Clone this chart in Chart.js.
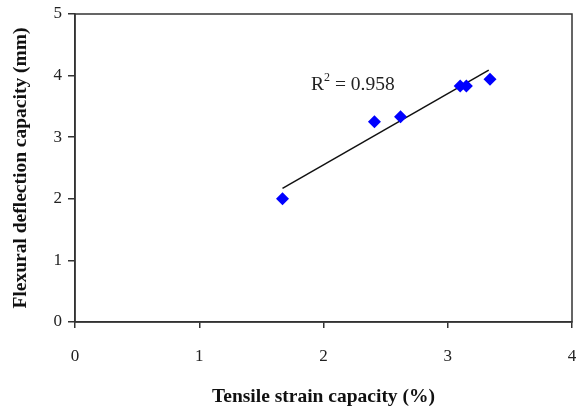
<!DOCTYPE html>
<html><head><meta charset="utf-8">
<script src="https://cdn.jsdelivr.net/npm/chart.js@4/dist/chart.umd.min.js"></script>
<style>html,body{margin:0;padding:0;background:#fff}#wrap{width:576px;height:409px}</style>
</head><body><div id="wrap"><canvas id="c" width="576" height="409"></canvas></div>
<script>
const strainX = [1.67, 2.41, 2.62, 3.10, 3.15, 3.34];
const deflectionY = [2.00, 3.25, 3.33, 3.83, 3.83, 3.94];
const trendX = [1.67, 3.33];
const trendY = [2.17, 4.09];
const xTicks = [0, 1, 2, 3, 4];
const yTicks = [0, 1, 2, 3, 4, 5];
const r2Label = { x: 1.90, y: 3.77, text: "0.958" };

const frame = {
  id: 'frame',
  afterDraw(chart) {
    const {ctx, chartArea: a, scales} = chart;
    ctx.save();
    ctx.strokeStyle = '#333';
    ctx.lineWidth = 1.5;
    ctx.strokeRect(a.left, a.top, a.right - a.left, a.bottom - a.top);
    const px = scales.x.getPixelForValue(r2Label.x);
    const py = scales.y.getPixelForValue(r2Label.y);
    ctx.fillStyle = '#222';
    ctx.textBaseline = 'alphabetic';
    ctx.font = '19.5px "Liberation Serif", serif';
    let x = px;
    ctx.fillText('R', x, py);
    x += ctx.measureText('R').width;
    ctx.font = '12px "Liberation Serif", serif';
    ctx.fillText('2', x, py - 9);
    x += ctx.measureText('2').width;
    ctx.font = '19.5px "Liberation Serif", serif';
    ctx.fillText(' = ' + r2Label.text, x, py);
    ctx.restore();
  }
};

new Chart(document.getElementById('c'), {
  type: 'scatter',
  data: {
    datasets: [
      {
        data: strainX.map((x, i) => ({x, y: deflectionY[i]})),
        pointStyle: 'rectRot', pointRadius: 6.5, pointHoverRadius: 6.5,
        backgroundColor: '#0000ff', borderColor: '#0000ff', borderWidth: 0
      },
      {
        type: 'line',
        data: trendX.map((x, i) => ({x, y: trendY[i]})),
        borderColor: '#111', borderWidth: 1.5, pointRadius: 0, fill: false
      }
    ]
  },
  plugins: [frame],
  options: {
    responsive: false, animation: false,
    layout: { autoPadding: false, padding: { left: 0, right: 4, top: 14, bottom: 0 } },
    plugins: { legend: { display: false }, tooltip: { enabled: false } },
    scales: {
      x: {
        type: 'linear', min: 0, max: 4,
        afterBuildTicks(s) { s.ticks = xTicks.map(v => ({value: v})); },
        afterFit(s) { s.height = 87; s.paddingLeft = 0; s.paddingRight = 0; },
        grid: { drawOnChartArea: false, tickLength: 6, color: '#333', lineWidth: 1.5 },
        border: { color: '#333', width: 1.5 },
        ticks: { padding: 18, color: '#222', font: { family: '"Liberation Serif", serif', size: 17 } },
        title: { display: true, text: 'Tensile strain capacity (%)', color: '#111',
          font: { family: '"Liberation Serif", serif', size: 19.5, weight: 'bold' }, padding: { top: 0, bottom: 0 } }
      },
      y: {
        type: 'linear', min: 0, max: 5,
        afterBuildTicks(s) { s.ticks = yTicks.map(v => ({value: v})); },
        afterFit(s) { s.width = 75; s.paddingTop = 0; s.paddingBottom = 0; },
        grid: { drawOnChartArea: false, tickLength: 7, color: '#333', lineWidth: 1.5 },
        border: { color: '#333', width: 1.5 },
        ticks: { padding: 6, color: '#222', font: { family: '"Liberation Serif", serif', size: 17 } },
        title: { display: true, text: 'Flexural deflection capacity (mm)', color: '#111',
          font: { family: '"Liberation Serif", serif', size: 19.5, weight: 'bold' }, padding: { top: 9, bottom: 0 } }
      }
    }
  }
});
</script></body></html>
